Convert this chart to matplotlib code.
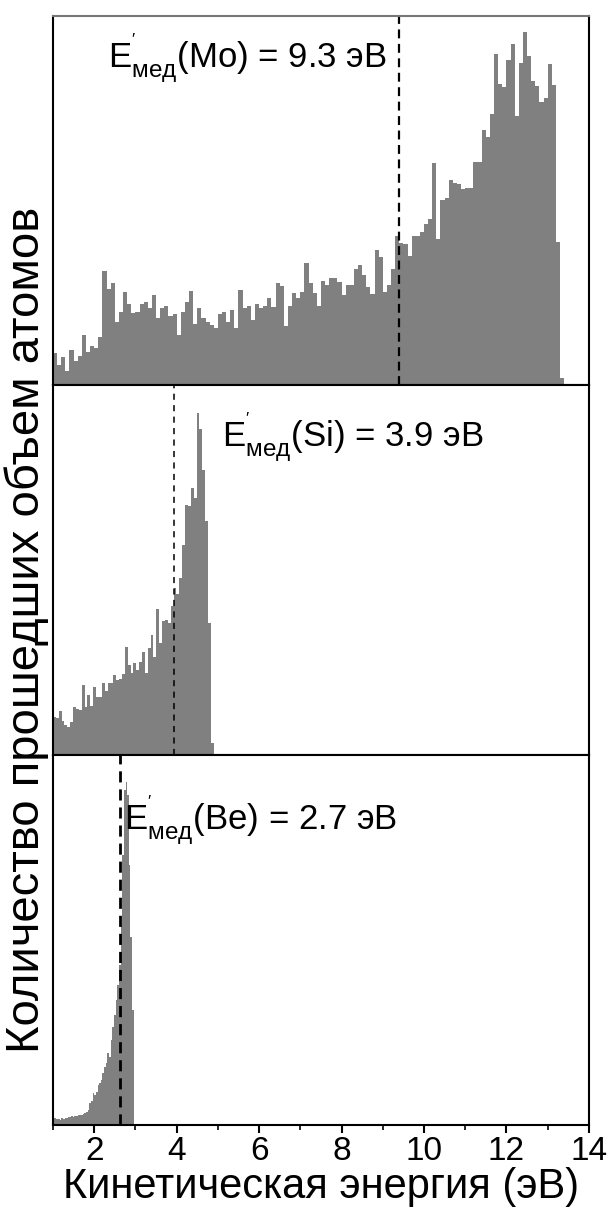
import numpy as np
import matplotlib
matplotlib.use("Agg")
import matplotlib.pyplot as plt

plt.rcParams['font.family'] = ['Liberation Sans', 'DejaVu Sans']
plt.rcParams['mathtext.fontset'] = 'custom'
plt.rcParams['mathtext.rm'] = 'Liberation Sans'
plt.rcParams['mathtext.it'] = 'Liberation Sans'

# counts per bin (arbitrary units)
mo_counts = [32, 20, 28, 14, 35, 24, 29, 51, 33, 39, 37, 49, 115, 97, 103, 64, 74, 94, 82, 73,
             74, 82, 84, 78, 91, 68, 78, 80, 70, 72, 51, 74, 84, 95,
             62, 78, 68, 64, 61, 58, 72, 74, 64, 76, 58, 96, 78, 80, 66, 82, 78, 80, 88, 79,
             103, 100, 60, 80, 93, 88, 94, 123, 103, 93, 80, 105, 101, 108,
             108, 104, 91, 101, 101, 117, 121, 111, 99, 92, 136, 129, 94, 101, 117, 150, 143,
             142, 130, 150, 150, 154, 162, 167, 223, 147, 186, 188, 206, 203, 202, 197, 198,
             198, 224, 224, 256, 249, 272, 332, 302, 299, 326, 342, 270, 323, 354, 330, 305,
             300, 284, 288, 322, 301, 144, 7]
mo_start, mo_width = 1.0, 0.1

si_counts = [38, 37, 44, 34, 30, 28, 33, 48, 46, 45, 70, 48, 60, 49, 68, 58, 58, 72, 64, 72,
             72, 80, 75, 76, 81, 108, 90, 82, 92, 85, 93, 103,
             82, 107, 120, 98, 146, 112, 134, 135, 132, 149, 167, 161, 177, 210, 250, 249,
             267, 257, 342, 326, 285, 234, 132, 12]
si_range = (1.0, 4.9)

be_counts = [7, 7, 6, 6, 5, 7, 6, 7, 7, 8, 8, 9, 8, 9, 9, 10, 10, 10, 11, 12, 13, 15, 22, 24,
             32, 30, 33, 40, 42, 45, 52, 58, 62, 72, 68, 85, 98, 110, 125, 140, 160, 200, 270,
             335, 343, 330, 260, 188, 115]
be_start, be_width = 1.0, 0.04

medians = [9.4, 3.94, 2.63]
labels = [r"E$^{'}_{\mathrm{мед}}$(Mo) = 9.3 эВ",
          r"E$^{'}_{\mathrm{мед}}$(Si) = 3.9 эВ",
          r"E$^{'}_{\mathrm{мед}}$(Be) = 2.7 эВ"]
label_pos = [(2.33, 317), (5.1, 308), (2.72, 295)]
dash_styles = [((0, (4, 2.5)), 1.6), ((0, (4, 3.5)), 1.1), ((0, (4, 2.5)), 2.0)]

mo_edges = mo_start + mo_width * np.arange(len(mo_counts) + 1)
si_edges = np.linspace(si_range[0], si_range[1], len(si_counts) + 1)
be_edges = be_start + be_width * np.arange(len(be_counts) + 1)

fig, axes = plt.subplots(3, 1, sharex=True, figsize=(6.09, 12.09), dpi=100)
fig.subplots_adjust(left=0.087, right=0.967, top=0.987, bottom=0.0695, hspace=0)

data = [(mo_counts, mo_edges), (si_counts, si_edges), (be_counts, be_edges)]
for i, ax in enumerate(axes):
    counts, edges = data[i]
    ax.stairs(counts, edges, fill=True, color='#808080', linewidth=0)
    ls, lw = dash_styles[i]
    ax.axvline(medians[i], color='black', linestyle=ls, linewidth=lw)
    ax.text(label_pos[i][0], label_pos[i][1], labels[i], fontsize=25, va='baseline')
    ax.set_ylim(0, 370)
    ax.set_yticks([])
    for s in ax.spines.values():
        s.set_linewidth(1.5)
    ax.tick_params(axis='x', which='both', bottom=False, labelbottom=False)

axes[0].spines['top'].set_color('#777777')

ax = axes[2]
ax.set_xlim(1, 14)
ax.set_xticks([2, 4, 6, 8, 10, 12, 14])
ax.set_xticks(np.arange(1, 15, 1), minor=True)
ax.tick_params(axis='x', which='major', bottom=True, labelbottom=True, direction='out',
               length=6, width=1.5, labelsize=24, pad=2)
ax.tick_params(axis='x', which='minor', bottom=True, direction='out', length=3.5, width=1.2)
ax.set_xlabel("Кинетическая энергия (эВ)", fontsize=30, labelpad=0)

fig.text(0.043, 1 - 630 / 1209, "Количество прошедших объем атомов", rotation=90,
         fontsize=34, ha='center', va='center')

fig.savefig("out.png", dpi=100)
